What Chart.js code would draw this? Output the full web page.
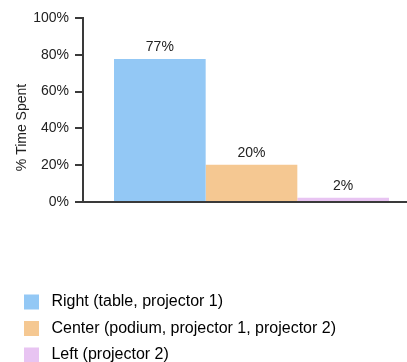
<!DOCTYPE html>
<html>
<head>
<meta charset="utf-8">
<script src="https://cdn.jsdelivr.net/npm/chart.js@4"></script>
<style>
  html, body { margin: 0; padding: 0; overflow: hidden; background: #fff; width: 407px; height: 362px; }
  canvas { display: block; }
</style>
</head>
<body>
<canvas id="c" width="420" height="362"></canvas>
<script>
const categories = [''];
const seriesNames = ['Right (table, projector 1)', 'Center (podium, projector 1, projector 2)', 'Left (projector 2)'];
const seriesValues = [77.7, 20.2, 2.3];
const valueLabels = ['77%', '20%', '2%'];
const seriesColors = ['#93c8f5', '#f5c892', '#e8c4f2'];
const yTicks = [0, 20, 40, 60, 80, 100];
const yTitle = '% Time Spent';

const FONT = '"Liberation Sans", Arial, sans-serif';

const valueLabelPlugin = {
  id: 'valueLabels',
  afterDatasetsDraw(chart) {
    const ctx = chart.ctx;
    ctx.save();
    ctx.font = '14px ' + FONT;
    ctx.fillStyle = '#222';
    ctx.textAlign = 'center';
    ctx.textBaseline = 'bottom';
    chart.data.datasets.forEach((ds, i) => {
      const el = chart.getDatasetMeta(i).data[0];
      ctx.fillText(valueLabels[i], el.x, el.y - 5);
    });
    ctx.restore();
  }
};

const legendShiftPlugin = {
  id: 'legendShift',
  afterLayout(chart) {
    const lg = chart.legend;
    if (lg) { lg.top += 11; lg.bottom += 11; }
  }
};

new Chart(document.getElementById('c'), {
  type: 'bar',
  data: {
    labels: categories,
    datasets: seriesNames.map((name, i) => ({
      label: name,
      data: [seriesValues[i]],
      backgroundColor: seriesColors[i],
      borderWidth: 0,
      categoryPercentage: 0.816,
      barPercentage: 1.0
    }))
  },
  options: {
    responsive: false,
    animation: false,
    devicePixelRatio: 1,
    layout: { padding: { top: 18, left: 13.5, right: 0, bottom: 0 } },
    plugins: {
      tooltip: { enabled: false },
      legend: {
        position: 'bottom',
        align: 'start',
        labels: {
          boxWidth: 15,
          boxHeight: 15,
          padding: 10.5,
          color: '#222',
          font: { size: 16, family: FONT },
          generateLabels(chart) {
            return chart.data.datasets.map((ds, i) => ({
              text: ' ' + ds.label,
              fillStyle: ds.backgroundColor,
              strokeStyle: ds.backgroundColor,
              lineWidth: 0,
              hidden: false,
              datasetIndex: i
            }));
          }
        }
      }
    },
    scales: {
      x: {
        type: 'category',
        grid: { display: false },
        ticks: { display: false },
        border: { display: true, color: '#3a3a3a', width: 2 },
        afterFit(scale) { scale.height = 70.5; }
      },
      y: {
        min: 0,
        max: 100,
        afterBuildTicks(scale) { scale.ticks = yTicks.map(v => ({ value: v })); },
        ticks: {
          padding: 6,
          color: '#222',
          font: { size: 14, family: FONT },
          callback: v => v + '%'
        },
        grid: { display: true, drawOnChartArea: false, drawTicks: true, tickLength: 8, color: '#3a3a3a', lineWidth: 2 },
        border: { display: true, color: '#3a3a3a', width: 2 },
        title: {
          display: true,
          text: yTitle + '         ',
          color: '#222',
          font: { size: 14, family: FONT },
          padding: { top: 0, bottom: 4 }
        },
        afterFit(scale) { scale.width = 69.5; }
      }
    }
  },
  plugins: [valueLabelPlugin, legendShiftPlugin]
});
</script>
</body>
</html>
